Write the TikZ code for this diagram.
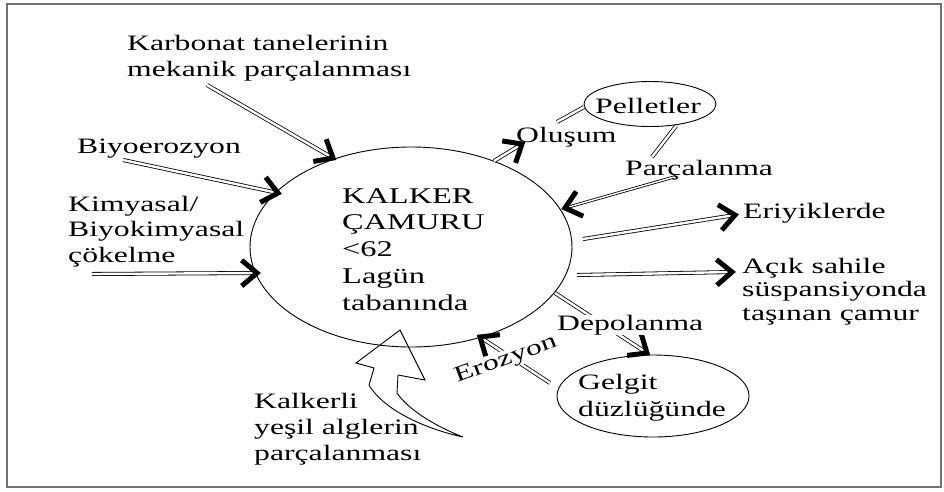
\documentclass[tikz,border=0pt]{standalone}
\usepackage{fontspec}
\setmainfont{Liberation Serif}[FakeStretch=1.44]
\usetikzlibrary{shapes.geometric,calc}
\newcommand\dblarr[3][]{%
  \draw[dbl,#1] (#2) -- (#3);
  \draw[chev] ($(#3)!20pt!40:(#2)$) -- (#3) -- ($(#3)!20pt!-40:(#2)$);}
\begin{document}
\begin{tikzpicture}[x=1pt,y=-1pt,
  lbl/.style={font=\fontsize{22}{25.5}\selectfont, inner sep=0pt, align=left, anchor=base west},
  dbl/.style={draw=black, double=white, double distance=2.4pt, line width=0.8pt},
  chev/.style={draw=black, line width=5pt, line join=miter, miter limit=10},
  oval/.style={draw, ellipse, line width=0.9pt, inner sep=0pt}]
\useasboundingbox (0,0) rectangle (944,491);
\fill[white] (0,0) rectangle (944,491);
\draw[draw=black!55, line width=1.5pt] (7,4) rectangle (941,487);

% ovals
\node[oval, minimum width=322pt, minimum height=200pt] (mud) at (411,247) {};
\node[oval, minimum width=132pt, minimum height=45pt] (pel) at (650,104) {};
\node[oval, minimum width=192pt, minimum height=82pt] (gel) at (653,396) {};

% end points
\coordinate (k1) at (207,85);  \coordinate (k2) at (333,158);
\coordinate (b1) at (123,160); \coordinate (b2) at (278,193);
\coordinate (c1) at (92,274);  \coordinate (c2) at (257,273);
\coordinate (o1) at (494,161); \coordinate (o2) at (522,144);
\coordinate (p1) at (557,122); \coordinate (p2) at (584,107);
\coordinate (q1) at (676,126); \coordinate (q2) at (652,157);
\coordinate (r1) at (674,177); \coordinate (r2) at (565,208);
\coordinate (e1) at (583,239); \coordinate (e2) at (735,215);
\coordinate (a1) at (577,275); \coordinate (a2) at (732,272);
\coordinate (d1) at (555,293); \coordinate (d2) at (647,353);
\coordinate (z1) at (550,383); \coordinate (z2) at (480,337);

% connectors
\dblarr{k1}{k2}
\dblarr{b1}{b2}
\dblarr{c1}{c2}
\dblarr{o1}{o2}
\draw[dbl] (p1) -- (p2);
\draw[dbl] (q1) -- (q2);
\dblarr[double distance=1.4pt]{r1}{r2}
\dblarr{e1}{e2}
\dblarr{a1}{a2}
\dblarr{d1}{d2}
\dblarr{z1}{z2}

% big outline arrow
\draw[line width=0.9pt, line join=miter] (400,330) -- (425,380) -- (398,375) -- (397,393)
  .. controls (410,412) and (440,428) .. (463,437)
  .. controls (430,430) and (385,412) .. (369,385) -- (374,368) -- (356,363) -- cycle;

% texts (anchor = baseline of the last line)
\node[lbl, font=\fontsize{22.5}{26.75}\selectfont] (mudtext) at (342,310) {KALKER\\ÇAMURU\\<62\\Lagün\\tabanında};
\node[lbl, font=\fontsize{22}{26}\selectfont] (karb) at (127,76) {Karbonat tanelerinin\\mekanik parçalanması};
\node[lbl] (biyo) at (77,153) {Biyoerozyon};
\node[lbl] (kim) at (68,262) {Kimyasal/\\Biyokimyasal\\çökelme};
\node[lbl] (olus) at (516,142) {Oluşum};
\node[lbl] (pelt) at (595,113) {Pelletler};
\node[lbl] (parc) at (625,175) {Parçalanma};
\node[lbl] (eri) at (743,218) {Eriyiklerde};
\node[lbl, font=\fontsize{22}{23.5}\selectfont] (acik) at (742,320) {Açık sahile\\süspansiyonda\\taşınan çamur};
\node[lbl, fill=white] (depo) at (557,330) {Depolanma};
\node[lbl, font=\fontsize{22}{27}\selectfont] (gelt) at (578,416) {Gelgit\\düzlüğünde};
\node[lbl, fill=white, rotate=20] (eroz) at (457,383) {Erozyon};
\node[lbl, font=\fontsize{22}{26}\selectfont] (kalk) at (254,460) {Kalkerli\\yeşil alglerin\\parçalanması};
\end{tikzpicture}
\end{document}
